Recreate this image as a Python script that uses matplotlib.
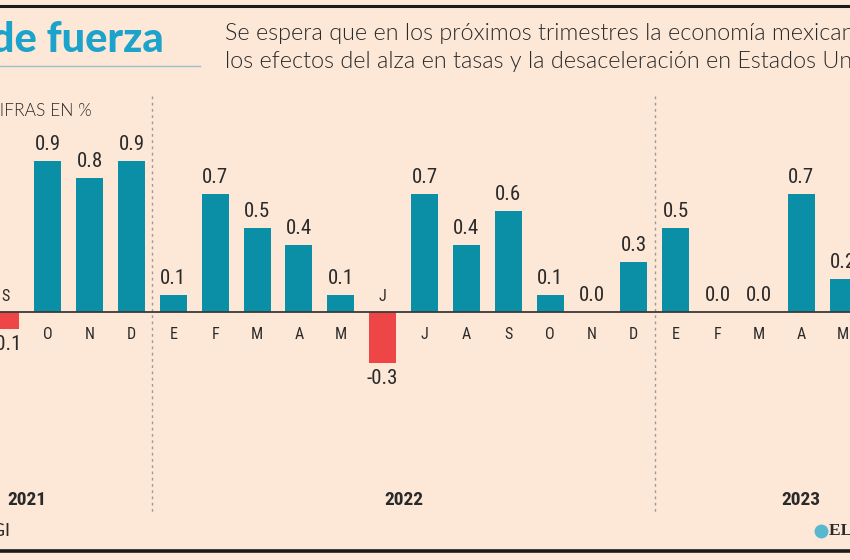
import matplotlib
matplotlib.use("Agg")
import matplotlib.pyplot as plt
from matplotlib import font_manager
from matplotlib.font_manager import FontProperties

# ---------------- data ----------------
months = ["S", "O", "N", "D",
          "E", "F", "M", "A", "M", "J", "J", "A", "S", "O", "N", "D",
          "E", "F", "M", "A", "M"]
values = [-0.1, 0.9, 0.8, 0.9,
          0.1, 0.7, 0.5, 0.4, 0.1, -0.3, 0.7, 0.4, 0.6, 0.1, 0.0, 0.3,
          0.5, 0.0, 0.0, 0.7, 0.2]
years = ["2021", "2022", "2023"]
year_pos = [0.5, 9.5, 19.0]
dividers = [3.5, 15.5]

title = "Motor de fuerza"
subtitle_1 = "Se espera que en los próximos trimestres la economía mexicana resienta"
subtitle_2 = "los efectos del alza en tasas y la desaceleración en Estados Unidos."
units = "CIFRAS EN %"
source = "Fuente: INEGI"
brand = "EL ECONOMISTA"

# ---------------- style ----------------
BG = "#fde8d8"
TEAL = "#0b8fa7"
RED = "#ee4646"
DARK = "#2a2a2a"
TITLE_C = "#1ca3cb"

files = [f.fname for f in font_manager.fontManager.ttflist]


def find_font(patterns, fallback):
    for pat in patterns:
        for fn in files:
            base = fn.replace("\\", "/").split("/")[-1].lower()
            if base == pat.lower():
                return FontProperties(fname=fn)
    return fallback


NARROW = find_font(["LiberationSansNarrow-Regular.ttf", "RobotoCondensed-Regular.ttf",
                    "DejaVuSansCondensed.ttf"],
                   FontProperties(family="DejaVu Sans", stretch="condensed"))
NARROW_B = find_font(["LiberationSansNarrow-Bold.ttf", "RobotoCondensed-Bold.ttf",
                      "DejaVuSansCondensed-Bold.ttf"],
                     FontProperties(family="DejaVu Sans", stretch="condensed", weight="bold"))
LIGHTF = find_font(["Lato-Light.ttf", "Roboto-Light.ttf", "OpenSans-Light.ttf"],
                   FontProperties(family="Lato"))
TITLEF = find_font(["Lato-Black.ttf", "Lato-Heavy.ttf", "Lato-Bold.ttf"],
                   FontProperties(family="Lato", weight="black"))
REGF = find_font(["Lato-Regular.ttf"], FontProperties(family="Lato"))

W, H = 850, 560
fig = plt.figure(figsize=(W / 100, H / 100), dpi=100)
fig.patch.set_facecolor(BG)
ax = fig.add_axes([0, 0, 1, 1])
ax.set_facecolor(BG)
ax.set_axis_off()

# pixel mapping: index i -> 6 + 41.85*i ; baseline at y=312.3 px, 168.4 px per unit
x0, dx = 6.0, 41.85
base_px, unit_px = 312.3, 168.4
ax.set_xlim(-x0 / dx, (W - x0) / dx)
ax.set_ylim(-(H - base_px) / unit_px, base_px / unit_px)

xs = list(range(len(values)))
colors = [RED if v < 0 else TEAL for v in values]
ax.bar(xs, values, width=0.645, color=colors, zorder=3)
ax.axhline(0, color="#3a3a3a", lw=1.3, zorder=4)


def py(p):  # pixel-from-top -> data y
    return (base_px - p) / unit_px


def fp(base, size):
    f = base.copy()
    f.set_size(size)
    return f


for x, v, m in zip(xs, values, months):
    if v >= 0:
        ax.annotate(f"{v:.1f}", (x, v), xytext=(0, 7), textcoords="offset pixels",
                    ha="center", va="bottom", fontproperties=fp(NARROW, 15), color=DARK)
        ax.annotate(m, (x, 0), xytext=(0, -22), textcoords="offset pixels",
                    ha="center", va="center", fontproperties=fp(NARROW, 11.5), color=DARK)
    else:
        ax.annotate(f"{v:.1f}", (x, v), xytext=(0, -6), textcoords="offset pixels",
                    ha="center", va="top", fontproperties=fp(NARROW, 15), color=DARK)
        ax.annotate(m, (x, 0), xytext=(0, 16), textcoords="offset pixels",
                    ha="center", va="center", fontproperties=fp(NARROW, 11.5), color=DARK)

for d in dividers:
    ax.plot([d, d], [py(96), py(512)], color="#a09a96", lw=1.0,
            linestyle=(0, (2, 2.5)), zorder=1)

for yr, p in zip(years, year_pos):
    ax.text(p, py(500), yr, ha="center", va="center",
            fontproperties=fp(NARROW_B, 14), color=DARK)

# ---------------- header / footer (figure pixel coords) ----------------
def fx(p):
    return p / W


def fy(p):
    return 1 - p / H


fig.add_artist(plt.Line2D([0, 1], [fy(6), fy(6)], color="#1a1a1a", lw=2.2))
fig.add_artist(plt.Line2D([0, 1], [fy(551), fy(551)], color="#1a1a1a", lw=2.6))
fig.add_artist(plt.Line2D([0, fx(200)], [fy(66), fy(66)], color="#9fbfc6", lw=1.0))

fig.text(fx(164), fy(40), title, ha="right", va="center",
         fontproperties=fp(TITLEF, 30), color=TITLE_C)
fig.text(fx(225), fy(33), subtitle_1, ha="left", va="center",
         fontproperties=fp(LIGHTF, 16.8), color=DARK)
fig.text(fx(225), fy(62), subtitle_2, ha="left", va="center",
         fontproperties=fp(LIGHTF, 16.8), color=DARK)
fig.text(fx(92), fy(111), units, ha="right", va="center",
         fontproperties=fp(LIGHTF, 12.5), color=DARK)
fig.text(fx(10), fy(531), source, ha="right", va="center",
         fontproperties=fp(REGF, 13), color=DARK)
fig.add_artist(plt.Line2D([fx(821)], [fy(531)], marker="o", markersize=9,
                          color="#5ab7d0", linestyle="none"))
fig.text(fx(829), fy(531), brand, ha="left", va="center", fontsize=12.5,
         family="Liberation Serif", weight="bold", color=DARK)

fig.savefig("out.png", dpi=100, facecolor=BG)
